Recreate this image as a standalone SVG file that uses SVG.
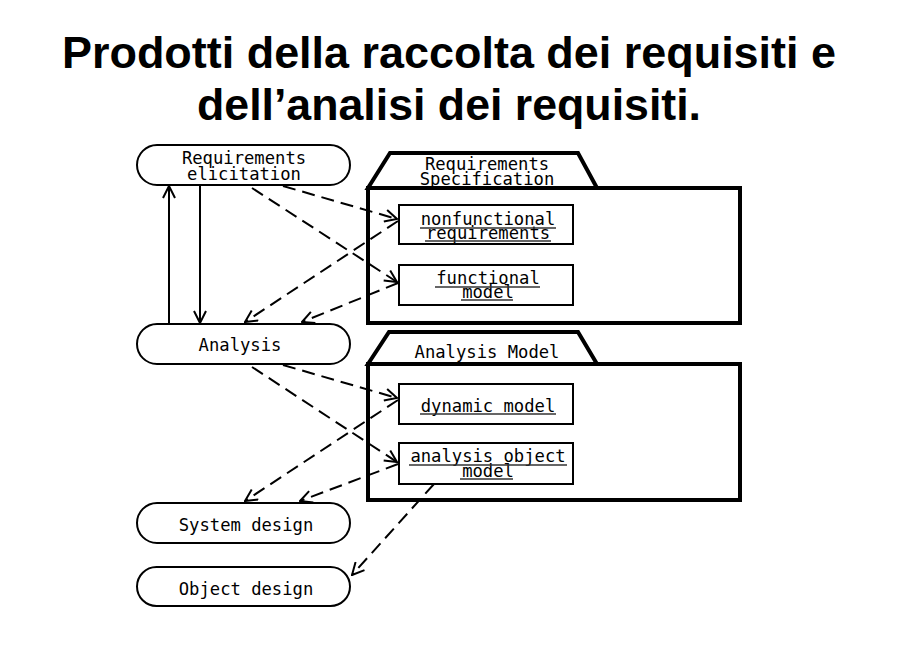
<svg xmlns="http://www.w3.org/2000/svg" width="897" height="666" viewBox="0 0 897 666">
<style>
.title{font-family:"Liberation Sans",Arial,sans-serif;font-weight:bold;font-size:44px;fill:#000;text-anchor:middle}
.t{font-family:"DejaVu Sans Mono","Liberation Mono",monospace;font-size:17.2px;fill:#000;text-anchor:middle}
.node{fill:#fff;stroke:#000;stroke-width:2}
.pkg{fill:#fff;stroke:#000;stroke-width:4;stroke-linejoin:miter}
.box{fill:#fff;stroke:#000;stroke-width:2}
.ul{stroke:#333;stroke-width:1.5}
.solid{fill:none;stroke:#000;stroke-width:2;marker-end:url(#arr)}
.dash{fill:none;stroke:#000;stroke-width:2;stroke-dasharray:13 7;marker-end:url(#arr)}
</style>
<defs>
<marker id="arr" viewBox="0 0 14 14" refX="13" refY="7" markerWidth="14" markerHeight="14" markerUnits="userSpaceOnUse" orient="auto">
<path d="M1,1 L13,7 L1,13" fill="none" stroke="#000" stroke-width="2"/>
</marker>
</defs>
<rect width="897" height="666" fill="#fff"/>
<g id="title">
<text class="title" x="449" y="68" textLength="774" lengthAdjust="spacingAndGlyphs">Prodotti della raccolta dei requisiti e</text>
<text class="title" x="449" y="120" textLength="504" lengthAdjust="spacingAndGlyphs">dell’analisi dei requisiti.</text>
</g>
<g id="req-spec">
<path class="pkg" d="M368,188 L390,153 L578,153 L597,188 Z"/>
<rect class="pkg" x="368" y="188" width="372" height="135"/>
<text class="t" x="487" y="170">Requirements</text>
<text class="t" x="487" y="185">Specification</text>
</g>
<g id="analysis-model">
<path class="pkg" d="M368,364 L389,332 L578,332 L597,364 Z"/>
<rect class="pkg" x="368" y="364" width="372" height="136"/>
<text class="t" x="487" y="358">Analysis Model</text>
</g>
<g id="nonfunctional">
<rect class="box" x="399" y="205" width="174" height="39"/>
<text class="t" x="488" y="225">nonfunctional</text>
<text class="t" x="488" y="239">requirements</text>
<line class="ul" x1="420" y1="228" x2="556" y2="228"/>
<line class="ul" x1="425" y1="241" x2="551" y2="241"/>
</g>
<g id="functional">
<rect class="box" x="399" y="265" width="174" height="40"/>
<text class="t" x="488" y="284">functional</text>
<text class="t" x="488" y="298">model</text>
<line class="ul" x1="435" y1="287" x2="540" y2="287"/>
<line class="ul" x1="461" y1="300" x2="513" y2="300"/>
</g>
<g id="dynamic">
<rect class="box" x="399" y="384" width="174" height="40"/>
<text class="t" x="488" y="412">dynamic model</text>
<line class="ul" x1="420" y1="414" x2="556" y2="414"/>
</g>
<g id="aom">
<rect class="box" x="399" y="443" width="174" height="41"/>
<text class="t" x="488" y="462">analysis object</text>
<text class="t" x="488" y="477">model</text>
<line class="ul" x1="409" y1="465" x2="567" y2="465"/>
<line class="ul" x1="460" y1="479" x2="513" y2="479"/>
</g>
<g id="req-elicitation">
<rect class="node" x="137" y="145" width="213" height="40" rx="20"/>
<text class="t" x="244" y="164">Requirements</text>
<text class="t" x="244" y="180">elicitation</text>
</g>
<g id="analysis">
<rect class="node" x="137" y="324" width="213" height="40" rx="20"/>
<text class="t" x="240" y="351">Analysis</text>
</g>
<g id="system-design">
<rect class="node" x="137" y="503" width="213" height="40" rx="20"/>
<text class="t" x="246" y="531">System design</text>
</g>
<g id="object-design">
<rect class="node" x="137" y="567" width="213" height="39" rx="19.5"/>
<text class="t" x="246" y="595">Object design</text>
</g>
<g id="connectors">
<line class="solid" x1="169" y1="324" x2="169" y2="186"/>
<line class="solid" x1="200" y1="186" x2="200" y2="323"/>
<line class="dash" x1="283" y1="186" x2="397" y2="219"/>
<line class="dash" x1="252" y1="188" x2="397" y2="282"/>
<line class="dash" x1="398" y1="221" x2="245" y2="322"/>
<line class="dash" x1="398" y1="283" x2="302" y2="322"/>
<line class="dash" x1="283" y1="365" x2="397" y2="398"/>
<line class="dash" x1="252" y1="367" x2="397" y2="462"/>
<line class="dash" x1="398" y1="400" x2="245" y2="501"/>
<line class="dash" x1="398" y1="464" x2="300" y2="501"/>
<line class="dash" x1="434" y1="484" x2="352" y2="575"/>
</g>
</svg>
